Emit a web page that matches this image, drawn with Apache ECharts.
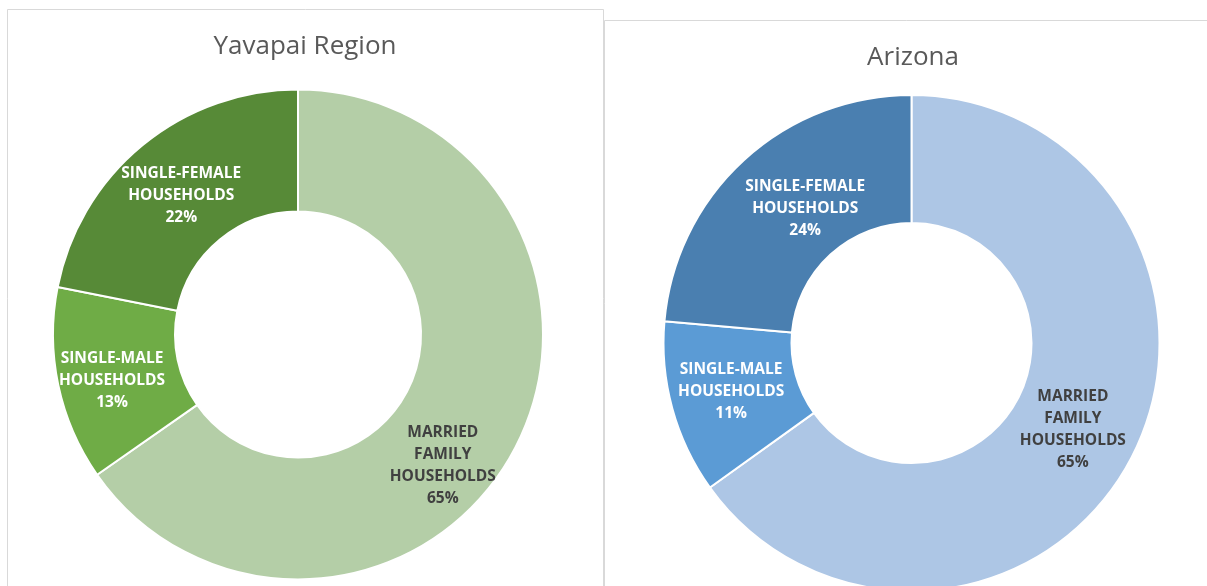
<!DOCTYPE html>
<html>
<head>
<meta charset="utf-8">
<title>Household types</title>
<script src="https://cdn.jsdelivr.net/npm/echarts@6/dist/echarts.min.js"></script>
<style>
  html, body { margin: 0; padding: 0; background: #fff; }
  #chart { width: 1207px; height: 586px; }
</style>
</head>
<body>
<div id="chart"></div>
<script>
// categories, in drawing order (clockwise from 12 o'clock)
const categories = ['MARRIED\nFAMILY\nHOUSEHOLDS', 'SINGLE-MALE\nHOUSEHOLDS', 'SINGLE-FEMALE\nHOUSEHOLDS'];
const titles = ['Yavapai Region', 'Arizona'];
// shares (%)
const yavapaiValues = [65.3, 12.8, 21.9];
const arizonaValues = [65.1, 11.3, 23.6];

const greens = ['#b4cea7', '#6fac46', '#578a37'];
const blues = ['#adc6e5', '#5b9bd5', '#4a7fb0'];
const labelColors = ['#404040', '#ffffff', '#ffffff'];

const chart = echarts.init(document.getElementById('chart'), null, { renderer: 'canvas' });

// 构建一个环形图系列
function donut(values, colors, center, radius, offsets) {
  return {
    type: 'pie',
    center: center,
    radius: radius,
    startAngle: 90,
    clockwise: true,
    silent: true,
    animation: false,
    itemStyle: { borderColor: '#ffffff', borderWidth: 2 },
    label: {
      show: true,
      position: 'inside',
      fontFamily: 'Open Sans',
      fontWeight: 'bold',
      fontSize: 15.5,
      lineHeight: 22,
      align: 'center',
      formatter: p => p.name + '\n' + Math.round(p.percent) + '%'
    },
    labelLine: { show: false },
    data: values.map((v, i) => ({
      name: categories[i],
      value: v,
      itemStyle: { color: colors[i] },
      label: { color: labelColors[i], offset: offsets[i] }
    }))
  };
}

chart.setOption({
  backgroundColor: '#ffffff',
  graphic: [
    // 面板边框
    { type: 'rect', shape: { x: 7.5, y: 9.5, width: 596, height: 700 },
      style: { fill: 'none', stroke: '#d9d9d9', lineWidth: 1 }, silent: true, z: -1 },
    { type: 'rect', shape: { x: 604.5, y: 20.5, width: 700, height: 700 },
      style: { fill: 'none', stroke: '#d9d9d9', lineWidth: 1 }, silent: true, z: -1 },
    { type: 'text', x: 305, y: 47,
      style: { text: titles[0], fill: '#595959', font: '26px "Open Sans"', textAlign: 'center', textVerticalAlign: 'middle' } },
    { type: 'text', x: 913, y: 58,
      style: { text: titles[1], fill: '#595959', font: '26px "Open Sans"', textAlign: 'center', textVerticalAlign: 'middle' } }
  ],
  series: [
    donut(yavapaiValues, greens, [298, 334.5], [123, 245], [[-21, 45], [-3, 8], [2, 6]]),
    donut(arizonaValues, blues, [911.5, 343], [120, 248], [[-5, 1], [0, -1], [20, 3]])
  ]
});
</script>
</body>
</html>
